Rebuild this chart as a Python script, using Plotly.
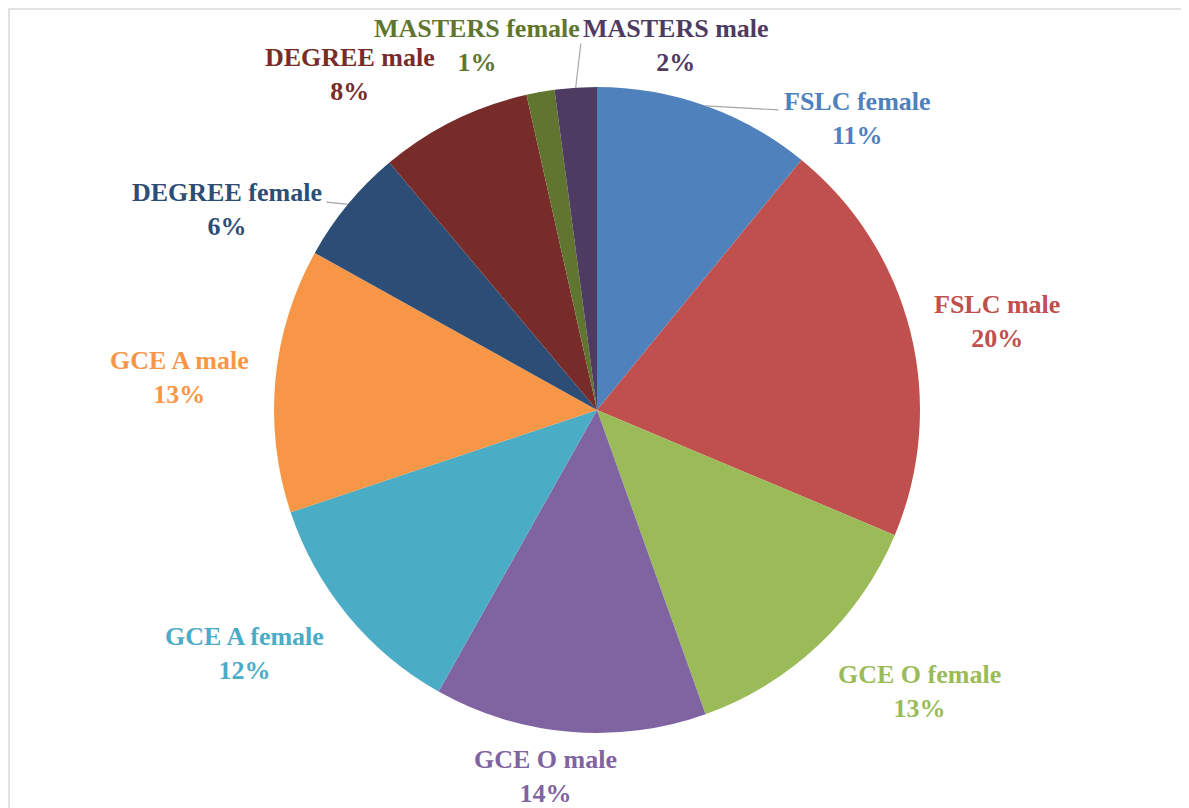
import math
import plotly.graph_objects as go

# ── data ──────────────────────────────────────────────────────────────────────
labels = [
    "FSLC female", "FSLC male", "GCE O female", "GCE O male",
    "GCE A female", "GCE A male", "DEGREE female", "DEGREE male",
    "MASTERS female", "MASTERS male",
]
shares = [10.9, 20.4, 13.2, 13.6, 11.7, 13.2, 5.8, 7.6, 1.4, 2.1]
colors = [
    "#4F81BD", "#C0504D", "#9BBB59", "#8064A2", "#4BACC6",
    "#F79646", "#2C4D75", "#772C2A", "#5F7530", "#4D3B62",
]

# ── layout helpers (pixels on the 1189x808 page) ─────────────────────────────
W, H = 1189, 808
OFF = 8                              # the html body margin shifts the figure
FONT = "Liberation Serif"
CX, CY, R = 597 - OFF, 410 - OFF, 323   # pie centre / radius, figure pixels

# label block centres on the page (Excel "best fit" placement)
label_pos = [
    (857, 118), (997, 321), (919, 691), (545, 776), (244, 653),
    (179, 377), (227, 209), (350, 75), (477, 45), (676, 45),
]
# leader lines: slice index -> tail point next to its label
leaders = {0: (780, 110), 6: (325, 202), 9: (581, 42)}


def px(x):
    return (x - OFF) / W


def py(y):
    return 1 - (y - OFF) / H


fig = go.Figure(go.Pie(
    labels=labels,
    values=shares,
    sort=False,
    direction="clockwise",
    rotation=0,
    marker=dict(colors=colors, line=dict(width=0)),
    textinfo="none",
    domain=dict(x=[(CX - R) / W, (CX + R) / W],
                y=[1 - (CY + R) / H, 1 - (CY - R) / H]),
    showlegend=False,
    hoverinfo="label+percent",
))

total = sum(shares)
cum = 0.0
for i, (lab, v, col) in enumerate(zip(labels, shares, colors)):
    mid = (cum + v / 2) / total * 2 * math.pi
    cum += v
    pct = round(v / total * 100)
    lx, ly = label_pos[i]
    fig.add_annotation(
        x=px(lx), y=py(ly), xref="paper", yref="paper",
        xanchor="center", yanchor="middle", align="center",
        text=f"<b>{lab}</b><br><b>{pct}%</b>",
        showarrow=False,
        font=dict(family=FONT, size=26, color=col),
    )
    if i in leaders:
        ex = CX + R * math.sin(mid)
        ey = CY - R * math.cos(mid)
        tx, ty = leaders[i]
        fig.add_annotation(
            x=ex / W, y=1 - ey / H, xref="paper", yref="paper",
            ax=(tx - OFF) - ex, ay=(ty - OFF) - ey, text="",
            showarrow=True, arrowhead=0, arrowwidth=1.2,
            arrowcolor="#A6A6A6", standoff=0, startstandoff=0,
        )

# thin grey chart-area border
fig.add_shape(type="rect", xref="paper", yref="paper",
              x0=1 / W, x1=px(1186), y0=-0.02, y1=1 - 1 / H,
              line=dict(color="#D9D9D9", width=1.5), fillcolor="rgba(0,0,0,0)")

fig.update_layout(
    width=W, height=H,
    margin=dict(l=0, r=0, t=0, b=0),
    paper_bgcolor="white",
    plot_bgcolor="white",
)

fig.write_html("out.html")
